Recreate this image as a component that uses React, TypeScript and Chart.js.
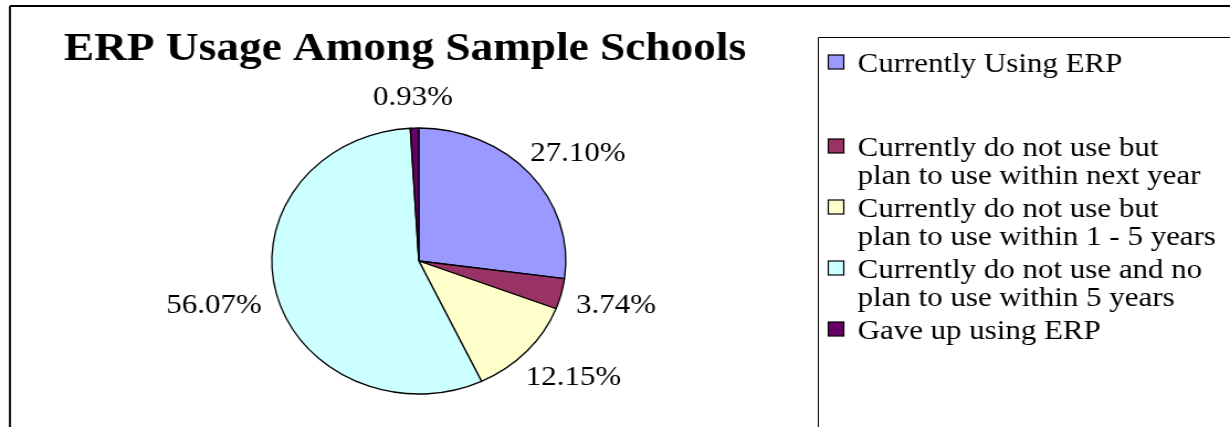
import React, { useEffect, useRef } from "react";
import { Chart, registerables } from "chart.js";

Chart.register(...registerables);

// ---- data ----
const categories = [
  "Currently Using ERP",
  "Currently do not use but plan to use within next year",
  "Currently do not use but plan to use within 1 - 5 years",
  "Currently do not use and no plan to use within 5 years",
  "Gave up using ERP",
];
const legendLines = [
  ["Currently Using ERP"],
  ["Currently do not use but", "plan to use within next year"],
  ["Currently do not use but", "plan to use within 1 - 5 years"],
  ["Currently do not use and no", "plan to use within 5 years"],
  ["Gave up using ERP"],
];
const shares = [27.1, 3.74, 12.15, 56.07, 0.93];
const sliceColors = ["#9999FF", "#993366", "#FFFFCC", "#CCFFFF", "#660066"];
const chartTitle = "ERP Usage Among Sample Schools";

// ---- layout (logical canvas, later stretched horizontally like the reference) ----
const OUT_W = 1230;
const H = 427;
const W = 1113;
const STRETCH = OUT_W / W;
const SERIF = "'Liberation Serif', 'Times New Roman', serif";

const framePlugin = {
  id: "frame",
  beforeDraw(chart: any) {
    const ctx = chart.ctx;
    ctx.save();
    ctx.fillStyle = "#ffffff";
    ctx.fillRect(0, 0, chart.width, chart.height);
    ctx.strokeStyle = "#000000";
    // outer chart frame
    ctx.lineWidth = 2;
    ctx.beginPath();
    ctx.moveTo(W + 10, 6);
    ctx.lineTo(9, 6);
    ctx.stroke();
    ctx.lineWidth = 2 / STRETCH;
    ctx.beginPath();
    ctx.moveTo(9, 6);
    ctx.lineTo(9, H + 10);
    ctx.stroke();
    // legend box
    ctx.lineWidth = 1;
    ctx.beginPath();
    ctx.moveTo(W + 10, 37.5);
    ctx.lineTo(740.5, 37.5);
    ctx.lineTo(740.5, H + 10);
    ctx.stroke();
    ctx.restore();
  },
};

const sliceLabelPlugin = {
  id: "sliceLabels",
  afterDatasetsDraw(chart: any) {
    const ctx = chart.ctx;
    const meta = chart.getDatasetMeta(0);
    const values = chart.data.datasets[0].data as number[];
    ctx.save();
    ctx.font = `28px ${SERIF}`;
    ctx.fillStyle = "#000000";
    ctx.textAlign = "center";
    ctx.textBaseline = "alphabetic";
    const gx = 15;
    const gy = 24;
    const hh = 10;
    meta.data.forEach((el: any, i: number) => {
      const p = el.getProps(["x", "y", "startAngle", "endAngle", "outerRadius"], true);
      const mid = (p.startAngle + p.endAngle) / 2;
      const dx = Math.cos(mid);
      const dy = Math.sin(mid);
      const text = values[i].toFixed(2) + "%";
      const hw = ctx.measureText(text).width / 2;
      const ex = p.x + dx * p.outerRadius;
      const ey = p.y + dy * p.outerRadius;
      const cx = ex + dx * (hw + gx);
      const cy = ey + dy * (hh + gy);
      ctx.fillText(text, cx, cy + 10.5);
    });
    ctx.restore();
  },
};

const titleLegendPlugin = {
  id: "titleLegend",
  afterDraw(chart: any) {
    const ctx = chart.ctx;
    ctx.save();
    ctx.fillStyle = "#000000";
    ctx.textBaseline = "alphabetic";
    ctx.textAlign = "center";
    ctx.font = `bold 41px ${SERIF}`;
    ctx.fillText(chartTitle, 366.5, 59.5);

    const colors = chart.data.datasets[0].backgroundColor as string[];
    ctx.font = `28px ${SERIF}`;
    ctx.textAlign = "left";
    const lineH = 28;
    const step = 61;
    legendLines.forEach((lines, i) => {
      const c = i === 0 ? 62 : 146 + (i - 1) * step;
      ctx.fillStyle = colors[i];
      ctx.fillRect(749.5, c - 7, 14, 14);
      ctx.strokeStyle = "#000000";
      ctx.lineWidth = 1.2;
      ctx.strokeRect(749.5, c - 7, 14, 14);
      ctx.fillStyle = "#000000";
      lines.forEach((ln, j) => {
        ctx.fillText(ln, 776, c + 9.5 + j * lineH);
      });
    });
    ctx.restore();
  },
};

export default function App() {
  const ref = useRef<HTMLCanvasElement | null>(null);
  useEffect(() => {
    if (!ref.current) return;
    const chart = new Chart(ref.current, {
      type: "pie",
      data: {
        labels: categories,
        datasets: [
          {
            data: shares,
            backgroundColor: sliceColors,
            borderColor: "#000000",
            borderWidth: 1.3,
          },
        ],
      },
      options: {
        responsive: false,
        animation: false,
        radius: 133,
        layout: { padding: { left: 246, right: W - 512, top: 128, bottom: 33 } },
        plugins: {
          legend: { display: false },
          title: { display: false },
          tooltip: { enabled: false },
        },
      } as any,
      plugins: [framePlugin, sliceLabelPlugin, titleLegendPlugin],
    });
    return () => chart.destroy();
  }, []);
  return (
    <div
      style={{
        position: "fixed",
        left: 0,
        top: 0,
        width: OUT_W,
        height: H,
        overflow: "hidden",
        background: "#ffffff",
      }}
    >
      <div
        style={{
          width: W,
          height: H,
          transform: `scaleX(${STRETCH})`,
          transformOrigin: "0 0",
        }}
      >
        <canvas ref={ref} width={W} height={H} style={{ width: W, height: H, display: "block" }} />
      </div>
    </div>
  );
}
